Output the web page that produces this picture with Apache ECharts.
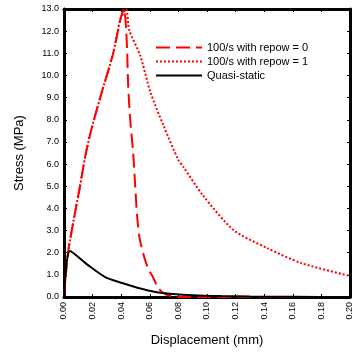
<!DOCTYPE html>
<html><head><meta charset="utf-8">
<script src="https://cdn.jsdelivr.net/npm/echarts@6/dist/echarts.min.js"></script>
<style>html,body{margin:0;padding:0;background:#fff}#c{width:363px;height:352px}</style>
</head><body><div id="c"></div>
<script>
var seriesNames = ['100/s with repow = 0', '100/s with repow = 1', 'Quasi-static'];
var rise = [[0,0],[0.0028,2.0],[0.0077,3.8],[0.0112,5.0],[0.0147,6.3],[0.0185,7.4],[0.0253,9.0],[0.0344,11.0],[0.0393,12.5]];
var repow0 = [[0.042,13.0],[0.0435,12.0],[0.0442,11.0],[0.0449,9.5],[0.0463,8.0],[0.0484,6.5],[0.0498,5.0],[0.0512,3.6],[0.053,2.6],[0.057,1.6],[0.0595,1.2],[0.0618,0.95],[0.0655,0.45],[0.069,0.2],[0.074,0.06],[0.08,0.0],[0.2,0.0]];
var repow1 = [[0.0435,13.0],[0.0456,12.05],[0.0533,10.9],[0.0604,9.25],[0.0695,7.75],[0.08,6.18],[0.0835,5.87],[0.097,4.6],[0.1186,3.02],[0.142,2.21],[0.166,1.53],[0.2,0.95]];
var quasi = [[0,0],[0.0042,2.08],[0.0168,1.44],[0.0288,0.9],[0.0407,0.63],[0.052,0.41],[0.064,0.23],[0.076,0.14],[0.09,0.08],[0.11,0.04],[0.13,0.02],[0.16,0.01],[0.2,0.0]];

var chart = echarts.init(document.getElementById('c'));
var font = 'Liberation Sans, Arial, sans-serif';
function ax(pos, show) {
  return {
    type: 'value', position: pos, min: 0,
    axisLine: {show: true, onZero: false, lineStyle: {color: '#000', width: 3}},
    axisTick: {show: true, inside: true, length: 3, lineStyle: {color: '#000', width: 1}},
    splitLine: {show: false},
    axisLabel: {show: show}
  };
}
var x0 = ax('bottom', true);
x0.max = 0.2; x0.interval = 0.02;
x0.axisLabel = {show: true, rotate: 90, fontSize: 9, color: '#000', fontFamily: font, margin: 5,
  formatter: function(v){return v.toFixed(2);}};
x0.name = 'Displacement (mm)'; x0.nameLocation = 'middle'; x0.nameGap = 37;
x0.nameTextStyle = {fontSize: 13, color: '#000', fontFamily: font};
var x1 = ax('top', false); x1.max = 0.2; x1.interval = 0.02;
var y0 = ax('left', true);
y0.max = 13; y0.interval = 1;
y0.axisLabel = {show: true, fontSize: 9, color: '#000', fontFamily: font, margin: 5,
  formatter: function(v){return v.toFixed(1);}};
y0.name = 'Stress (MPa)'; y0.nameLocation = 'middle'; y0.nameGap = 38;
y0.nameTextStyle = {fontSize: 13, color: '#000', fontFamily: font};
var y1 = ax('right', false); y1.max = 13; y1.interval = 1;

chart.setOption({
  animation: false,
  backgroundColor: '#fff',
  grid: {left: 64, right: 13, top: 9, bottom: 55},
  xAxis: [x0, x1],
  yAxis: [y0, y1],
  legend: {
    orient: 'vertical', left: 150, top: 37, itemWidth: 46, itemHeight: 10, itemGap: 3,
    textStyle: {fontSize: 11, color: '#000', fontFamily: font},
    itemStyle: {opacity: 0},
    data: seriesNames
  },
  series: [
    {name: seriesNames[0], type: 'line', data: rise.concat(repow0), showSymbol: false, symbol: 'none', smooth: 0.25,
      lineStyle: {color: '#f00', width: 2, type: [14, 6]}, itemStyle: {color: '#f00'}, z: 3},
    {name: seriesNames[1], type: 'line', data: rise.concat(repow1), showSymbol: false, symbol: 'none', smooth: 0.25,
      lineStyle: {color: '#f00', width: 2, type: [2, 2]}, itemStyle: {color: '#f00'}, z: 3},
    {name: seriesNames[2], type: 'line', data: quasi, showSymbol: false, symbol: 'none', smooth: 0.25,
      lineStyle: {color: '#000', width: 2}, itemStyle: {color: '#000'}, z: 4}
  ]
});
</script></body></html>
